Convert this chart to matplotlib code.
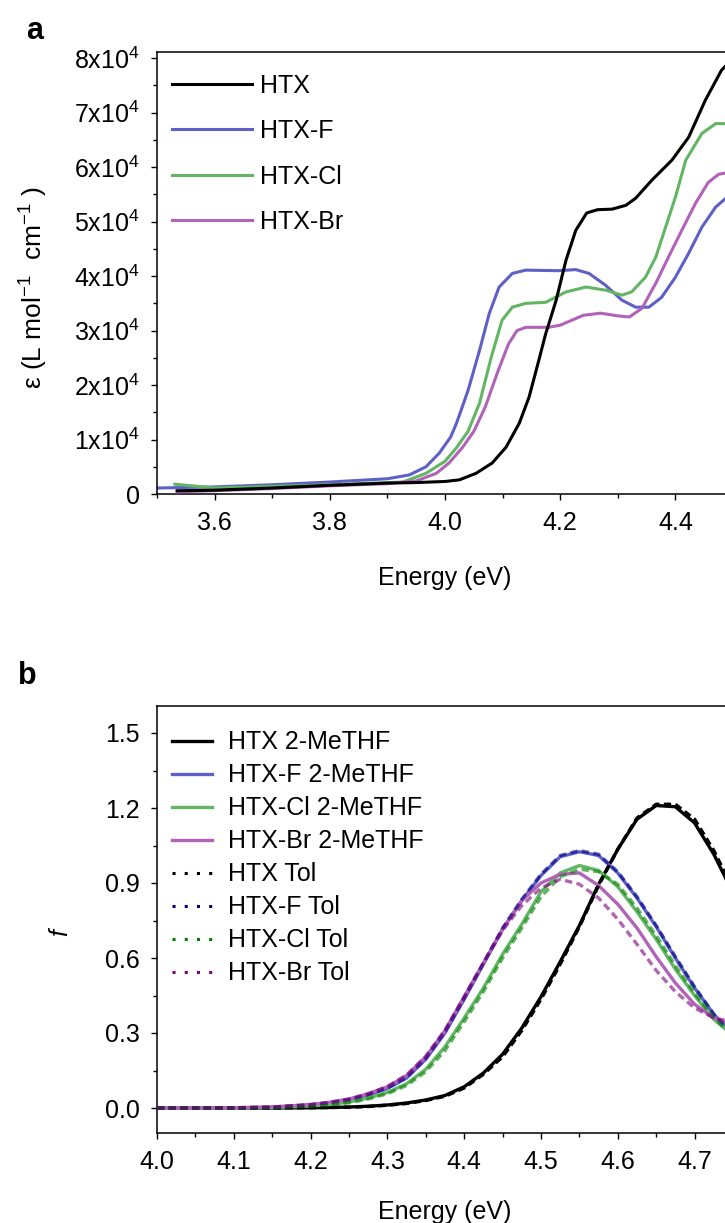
import matplotlib
matplotlib.use("Agg")
import matplotlib.pyplot as plt
from matplotlib.lines import Line2D
from matplotlib.ticker import MultipleLocator

plt.rcParams["font.family"] = ["Liberation Sans", "DejaVu Sans"]
plt.rcParams["mathtext.fontset"] = "custom"
plt.rcParams["mathtext.rm"] = "Liberation Sans"
plt.rcParams["mathtext.it"] = "Liberation Sans:italic"
plt.rcParams["mathtext.default"] = "regular"

# ---- panel a: molar absorption (eps in units of 1e4 L mol-1 cm-1) ----
a_names = ["HTX", "HTX-F", "HTX-Cl", "HTX-Br"]

htx_e = [3.535, 3.6, 3.7, 3.8, 3.9, 3.95, 4.0, 4.025, 4.054, 4.082, 4.106, 4.129,
         4.146, 4.163, 4.175, 4.184, 4.193, 4.21, 4.227, 4.246, 4.265, 4.29,
         4.314, 4.331, 4.359, 4.394, 4.423, 4.452, 4.48, 4.5]
htx_eps = [0.06, 0.07, 0.11, 0.16, 0.20, 0.21, 0.23, 0.26, 0.38, 0.57, 0.86, 1.30,
           1.78, 2.46, 2.95, 3.25, 3.56, 4.29, 4.84, 5.16, 5.22, 5.23,
           5.30, 5.43, 5.76, 6.13, 6.55, 7.23, 7.78, 8.0]

htxf_e = [3.5, 3.6, 3.7, 3.8, 3.9, 3.938, 3.967, 3.99, 4.01, 4.02, 4.04, 4.06,
          4.077, 4.094, 4.117, 4.14, 4.198, 4.227, 4.25, 4.279, 4.307, 4.331,
          4.354, 4.376, 4.4, 4.423, 4.446, 4.47, 4.49, 4.5]
htxf_eps = [0.11, 0.13, 0.17, 0.22, 0.28, 0.35, 0.5, 0.75, 1.05, 1.30, 1.9, 2.64,
            3.32, 3.8, 4.05, 4.11, 4.10, 4.12, 4.05, 3.83, 3.56, 3.43,
            3.43, 3.61, 3.98, 4.42, 4.9, 5.27, 5.45, 5.5]

htxcl_e = [3.531, 3.6, 3.7, 3.8, 3.927, 3.967, 4.0, 4.02, 4.04, 4.06, 4.08, 4.099,
           4.117, 4.14, 4.175, 4.21, 4.245, 4.28, 4.307, 4.324, 4.348, 4.366,
           4.383, 4.4, 4.418, 4.446, 4.47, 4.49, 4.5]
htxcl_eps = [0.18, 0.11, 0.14, 0.17, 0.22, 0.38, 0.6, 0.85, 1.15, 1.67, 2.5, 3.19,
             3.43, 3.5, 3.52, 3.71, 3.8, 3.74, 3.65, 3.71, 3.98, 4.35,
             4.9, 5.45, 6.13, 6.62, 6.8, 6.8, 6.8]

htxbr_e = [3.535, 3.6, 3.7, 3.8, 3.9, 3.95, 3.985, 4.007, 4.03, 4.05, 4.07, 4.09,
           4.11, 4.125, 4.14, 4.18, 4.2, 4.24, 4.27, 4.3, 4.32, 4.342, 4.366,
           4.388, 4.411, 4.435, 4.457, 4.475, 4.49, 4.5]
htxbr_eps = [0.04, 0.06, 0.10, 0.15, 0.19, 0.24, 0.38, 0.57, 0.85, 1.15, 1.6, 2.2,
             2.75, 3.0, 3.06, 3.06, 3.1, 3.28, 3.32, 3.27, 3.25, 3.41, 3.87,
             4.35, 4.84, 5.34, 5.72, 5.87, 5.9, 5.9]

a_yticks = [0, 1e4, 2e4, 3e4, 4e4, 5e4, 6e4, 7e4, 8e4]
a_ylabels = ["0", "1x10$^4$", "2x10$^4$", "3x10$^4$", "4x10$^4$",
             "5x10$^4$", "6x10$^4$", "7x10$^4$", "8x10$^4$"]

# ---- panel b: oscillator strength, 2-MeTHF (solid) and toluene (dashed) ----
b_e = [4.00, 4.05, 4.10, 4.15, 4.20, 4.225, 4.25, 4.275, 4.30, 4.325, 4.35,
       4.375, 4.40, 4.425, 4.45, 4.475, 4.50, 4.525, 4.55, 4.575, 4.60, 4.625,
       4.65, 4.675, 4.70, 4.725, 4.75]

htx_mthf = [0, 0, 0, 0, 0.001, 0.002, 0.004, 0.007, 0.012, 0.02, 0.032,
            0.05, 0.085, 0.14, 0.215, 0.32, 0.445, 0.585, 0.73, 0.895, 1.035, 1.155,
            1.21, 1.205, 1.14, 1.015, 0.86]
htxf_mthf = [0, 0, 0.001, 0.003, 0.012, 0.02, 0.032, 0.052, 0.078, 0.12, 0.195,
             0.30, 0.435, 0.575, 0.715, 0.83, 0.93, 1.005, 1.025, 1.01, 0.94, 0.84,
             0.725, 0.60, 0.48, 0.375, 0.29]
htxcl_mthf = [0, 0, 0, 0.002, 0.008, 0.014, 0.024, 0.04, 0.062, 0.097, 0.155,
              0.245, 0.36, 0.48, 0.615, 0.735, 0.865, 0.94, 0.97, 0.95, 0.885, 0.785,
              0.675, 0.555, 0.45, 0.355, 0.29]
htxbr_mthf = [0, 0, 0.001, 0.004, 0.014, 0.023, 0.036, 0.057, 0.085, 0.13, 0.205,
              0.31, 0.445, 0.58, 0.715, 0.83, 0.90, 0.935, 0.94, 0.89, 0.815, 0.72,
              0.605, 0.50, 0.415, 0.36, 0.33]

htx_tol = [0, 0, 0, 0, 0.001, 0.002, 0.003, 0.006, 0.011, 0.018, 0.03,
           0.047, 0.08, 0.135, 0.205, 0.31, 0.435, 0.575, 0.725, 0.89, 1.035, 1.16,
           1.215, 1.215, 1.155, 1.03, 0.875]
htxf_tol = [0, 0, 0.001, 0.003, 0.012, 0.02, 0.033, 0.053, 0.08, 0.122, 0.198,
            0.305, 0.44, 0.58, 0.72, 0.835, 0.935, 1.01, 1.03, 1.015, 0.945, 0.845,
            0.73, 0.605, 0.485, 0.375, 0.29]
htxcl_tol = [0, 0, 0, 0.002, 0.007, 0.012, 0.021, 0.036, 0.057, 0.09, 0.145,
             0.23, 0.345, 0.465, 0.60, 0.72, 0.845, 0.925, 0.955, 0.945, 0.895, 0.80,
             0.69, 0.57, 0.46, 0.36, 0.29]
htxbr_tol = [0, 0, 0.001, 0.004, 0.014, 0.023, 0.036, 0.057, 0.086, 0.132, 0.207,
             0.312, 0.445, 0.58, 0.71, 0.81, 0.88, 0.915, 0.895, 0.84, 0.755, 0.655,
             0.55, 0.465, 0.40, 0.36, 0.345]

b_names = ["HTX 2-MeTHF", "HTX-F 2-MeTHF", "HTX-Cl 2-MeTHF", "HTX-Br 2-MeTHF",
           "HTX Tol", "HTX-F Tol", "HTX-Cl Tol", "HTX-Br Tol"]

solid_colors = ["black", "#5e60c8", "#62b562", "#b262b8"]
tol_colors = ["black", "#000080", "#008000", "#800080"]

fig = plt.figure(figsize=(7.25, 12.23), dpi=100)
W, H = 725, 1223

FS = 18


def style_axes(ax):
    for s in ax.spines.values():
        s.set_linewidth(1.1)
    ax.tick_params(which="both", direction="out", top=False, right=False,
                   labelsize=FS, width=1.0, pad=8)
    ax.tick_params(which="major", length=4.5)
    ax.tick_params(which="minor", length=3)


# panel a
ax1 = fig.add_axes([157 / W, 1 - 494 / H, 576 / W, 442 / H])
a_series = [(htx_e, htx_eps), (htxf_e, htxf_eps), (htxcl_e, htxcl_eps), (htxbr_e, htxbr_eps)]
zorders = [5, 2, 3, 4]
for (e, eps), name, c, z in zip(a_series, a_names, solid_colors, zorders):
    ax1.plot(e, [v * 1e4 for v in eps], color=c, lw=2.2, label=name, zorder=z)
ax1.set_xlim(3.5, 4.5)
ax1.set_ylim(0, 81150)
ax1.set_yticks(a_yticks)
ax1.set_yticklabels(a_ylabels)
ax1.xaxis.set_major_locator(MultipleLocator(0.2))
ax1.xaxis.set_minor_locator(MultipleLocator(0.1))
ax1.yaxis.set_minor_locator(MultipleLocator(5000))
ax1.xaxis.set_major_formatter(plt.FormatStrFormatter("%.1f"))
style_axes(ax1)
ax1.set_xlabel("Energy (eV)", fontsize=FS)
ax1.xaxis.set_label_coords(0.5, -(566 - 494) / 442)
ax1.set_ylabel("ε (L mol$^{-1}$  cm$^{-1}$ )", fontsize=19)
ax1.yaxis.set_label_coords(-(157 - 50) / 576, 0.466)
ax1.legend(loc="upper left", bbox_to_anchor=(0.026, 0.951), frameon=False,
           fontsize=FS, handlelength=3.2, handletextpad=0.32, labelspacing=0.86,
           borderpad=0, borderaxespad=0)

# panel b
ax2 = fig.add_axes([157 / W, 1 - 1133 / H, 576 / W, 427 / H])
b_solid = [htx_mthf, htxf_mthf, htxcl_mthf, htxbr_mthf]
b_tol = [htx_tol, htxf_tol, htxcl_tol, htxbr_tol]
handles = []
for vals, c in zip(b_solid, solid_colors):
    ln, = ax2.plot(b_e, vals, color=c, lw=2.4, zorder=3)
    handles.append(ln)
for vals, c in zip(b_tol, tol_colors):
    a = 1.0 if c == "black" else 0.6
    ax2.plot(b_e, vals, color=c, lw=2.4, alpha=a, ls=(0, (2.2, 1.3)), zorder=4)
    handles.append(Line2D([], [], color=c, lw=2.2, ls=(0, (1, 3))))
ax2.set_xlim(4.0, 4.75)
ax2.set_ylim(-0.1, 1.608)
ax2.xaxis.set_major_locator(MultipleLocator(0.1))
ax2.xaxis.set_minor_locator(MultipleLocator(0.05))
ax2.yaxis.set_major_locator(MultipleLocator(0.3))
ax2.yaxis.set_minor_locator(MultipleLocator(0.15))
ax2.xaxis.set_major_formatter(plt.FormatStrFormatter("%.1f"))
ax2.yaxis.set_major_formatter(plt.FormatStrFormatter("%.1f"))
style_axes(ax2)
ax2.set_xlabel("Energy (eV)", fontsize=FS)
ax2.xaxis.set_label_coords(0.5, -(1200 - 1133) / 427)
ax2.set_ylabel("f", fontsize=FS, fontstyle="italic")
ax2.yaxis.set_label_coords(-(157 - 72) / 576, (1133 - 932) / 427)
ax2.legend(handles, b_names, loc="upper left", bbox_to_anchor=(0.026, 0.943),
           frameon=False, fontsize=FS, handlelength=1.6, handletextpad=0.64,
           labelspacing=0.36, borderpad=0, borderaxespad=0)

fig.text(26 / W, 1 - 31 / H, "a", fontsize=22, fontweight="bold", va="center", ha="left")
fig.text(18 / W, 1 - 676 / H, "b", fontsize=22, fontweight="bold", va="center", ha="left")

fig.savefig("out.png", dpi=100)
